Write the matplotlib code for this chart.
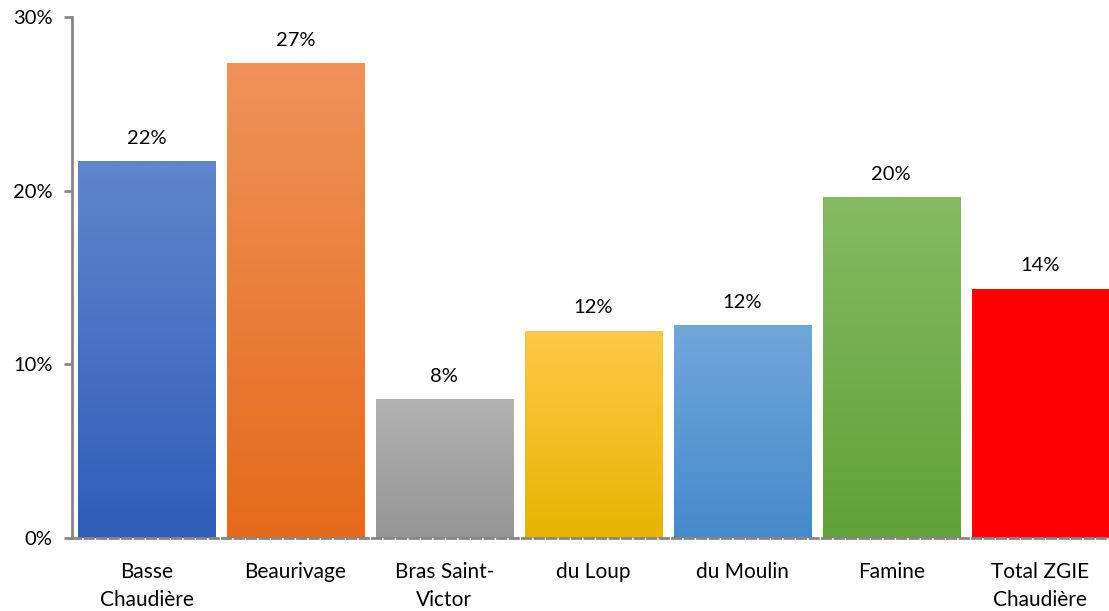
import numpy as np
import matplotlib.pyplot as plt
from matplotlib.colors import LinearSegmentedColormap

plt.rcParams['font.family'] = ['Lato', 'DejaVu Sans']

categories = ['Basse\nChaudière', 'Beaurivage', 'Bras Saint-\nVictor', 'du Loup',
              'du Moulin', 'Famine', 'Total ZGIE\nChaudière']
values = [21.7, 27.35, 8.0, 11.92, 12.26, 19.63, 14.34]
labels = ['22%', '27%', '8%', '12%', '12%', '20%', '14%']
# couleur haut / bas du dégradé
top_colors = ['#5F86CC', '#F0925A', '#B2B2B2', '#FFC848', '#70A7DB', '#85BA63', '#FF0000']
bottom_colors = ['#2F5DB8', '#E46B1A', '#959595', '#E8B400', '#468ACB', '#60A236', '#FF0000']

fig = plt.figure(figsize=(11.09, 6.11), dpi=100)
ax = fig.add_axes([0.065, 0.1195, 0.94, 0.8525])

x = np.arange(len(categories))
w = 0.92
bars = ax.bar(x, values, width=w, color='none', zorder=2)
grad = np.linspace(0, 1, 256).reshape(-1, 1)
for b, ct, cb in zip(bars, top_colors, bottom_colors):
    cmap = LinearSegmentedColormap.from_list('g', [cb, ct])
    x0 = b.get_x()
    ax.imshow(grad, cmap=cmap, origin='lower', aspect='auto',
              extent=(x0, x0 + b.get_width(), 0, b.get_height()), zorder=1)

for xi, v, lab in zip(x, values, labels):
    ax.annotate(lab, (xi, v), xytext=(0, 10.5), textcoords='offset points',
                ha='center', va='bottom', fontsize=14.5)

ax.set_xlim(-0.5, len(categories) - 0.5)
ax.set_ylim(0, 30)
ax.set_yticks([0, 10, 20, 30])
ax.set_yticklabels(['0%', '10%', '20%', '30%'], fontsize=14.5)
ax.set_xticks(x)
ax.set_xticklabels(categories, fontsize=15, linespacing=1.5)
ax.tick_params(axis='x', length=0, pad=17)
ax.tick_params(axis='y', length=6, width=2, color='#868686', pad=8)

for s in ['top', 'right']:
    ax.spines[s].set_visible(False)
ax.spines['left'].set_color('#868686')
ax.spines['left'].set_linewidth(2)
ax.spines['bottom'].set_color('#868686')
ax.spines['bottom'].set_linewidth(2)
ax.spines['bottom'].set_linestyle((0, (3, 1.5)))
ax.spines['bottom'].set_zorder(3)

fig.savefig('out.png', dpi=100)
